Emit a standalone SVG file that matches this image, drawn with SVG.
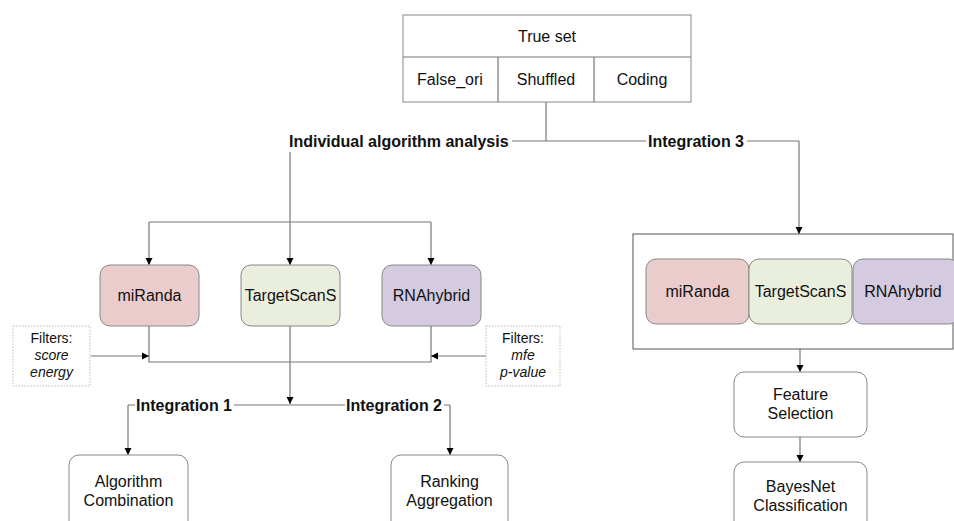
<svg xmlns="http://www.w3.org/2000/svg" width="954" height="521" viewBox="0 0 954 521">
<defs>
<marker id="arr" markerWidth="8" markerHeight="8" refX="7" refY="4" orient="auto" markerUnits="userSpaceOnUse">
<path d="M0,0.5 L7,4 L0,7.5 z" fill="#000"/>
</marker>
<style>
text{font-family:"Liberation Sans",Arial,sans-serif;fill:#111;}
.t{font-size:16px;text-anchor:middle;}
.f{font-size:14px;text-anchor:middle;}
.b{font-size:16px;font-weight:bold;}
.box{fill:#fff;stroke:#888;stroke-width:1;}
.flt{fill:#fff;stroke:#bbb;stroke-width:1;stroke-dasharray:1.5,1.5;}
.ln{fill:none;stroke:#777;stroke-width:1.2;}
.ar{fill:none;stroke:#777;stroke-width:1.2;marker-end:url(#arr);}
.mi{fill:#ebcccc;stroke:#888;}
.ts{fill:#eaeedd;stroke:#888;}
.rh{fill:#d4cbe0;stroke:#888;}
</style>
</defs>
<rect width="954" height="521" fill="#fff"/>

<g id="connectors">
<path class="ln" d="M546,102 V141 M512,141 H646 M747,141 H799"/>
<path class="ar" d="M799,141 V234"/>
<path class="ln" d="M290,152 V222 M149,222 H431"/>
<path class="ar" d="M149,222 V265"/>
<path class="ar" d="M290,222 V265"/>
<path class="ar" d="M431,222 V265"/>
<path class="ln" d="M149,326 V362 H431 V326"/>
<path class="ar" d="M91,356 H149"/>
<path class="ar" d="M486,356 H431"/>
<path class="ar" d="M290,326 V404"/>
<path class="ln" d="M135,405 H128 M234,405 H345 M444,405 H450"/>
<path class="ar" d="M128,405 V455"/>
<path class="ar" d="M450,405 V455"/>
<path class="ar" d="M800,349 V372"/>
<path class="ar" d="M800,437 V462"/>
</g>

<g id="trueset">
<rect class="box" x="403" y="15" width="288" height="87"/>
<path class="ln" stroke="#888" d="M403,57 H691 M498,57 V102 M594,57 V102"/>
<text class="t" x="547" y="42">True set</text>
<text class="t" x="450" y="85">False_ori</text>
<text class="t" x="546" y="85">Shuffled</text>
<text class="t" x="642" y="85">Coding</text>
</g>

<g id="label-individual"><text class="b" x="289" y="147">Individual algorithm analysis</text></g>
<g id="label-int3"><text class="b" x="648" y="147">Integration 3</text></g>
<g id="label-int1"><text class="b" x="136" y="411">Integration 1</text></g>
<g id="label-int2"><text class="b" x="346" y="411">Integration 2</text></g>

<g id="miranda">
<rect class="mi" x="100" y="265" width="99" height="61" rx="10"/>
<text class="t" x="149.5" y="301">miRanda</text>
</g>
<g id="targetscans">
<rect class="ts" x="241" y="265" width="99" height="61" rx="10"/>
<text class="t" x="290.5" y="301">TargetScanS</text>
</g>
<g id="rnahybrid">
<rect class="rh" x="382" y="265" width="99" height="61" rx="10"/>
<text class="t" x="431.5" y="301">RNAhybrid</text>
</g>

<g id="filters-left">
<rect class="flt" x="13" y="326" width="77" height="60"/>
<text class="f" x="51.5" y="343">Filters:</text>
<text class="f" x="51.5" y="360" font-style="italic">score</text>
<text class="f" x="51.5" y="377" font-style="italic">energy</text>
</g>
<g id="filters-right">
<rect class="flt" x="486" y="326" width="74" height="60"/>
<text class="f" x="523" y="343">Filters:</text>
<text class="f" x="523" y="360" font-style="italic">mfe</text>
<text class="f" x="523" y="377" font-style="italic">p-value</text>
</g>

<g id="algcomb">
<rect class="box" x="69" y="455" width="119" height="80" rx="10"/>
<text class="t" x="128.5" y="487">Algorithm</text>
<text class="t" x="128.5" y="506">Combination</text>
</g>
<g id="rankagg">
<rect class="box" x="391" y="455" width="117" height="80" rx="10"/>
<text class="t" x="449.5" y="487">Ranking</text>
<text class="t" x="449.5" y="506">Aggregation</text>
</g>

<g id="container">
<rect fill="#fff" stroke="#555" stroke-width="1" x="633" y="234" width="320" height="115"/>
<rect class="mi" x="646" y="259" width="103" height="65" rx="10"/>
<text class="t" x="697.5" y="297">miRanda</text>
<rect class="ts" x="749" y="259" width="103" height="65" rx="10"/>
<text class="t" x="800.5" y="297">TargetScanS</text>
<rect class="rh" x="853" y="259" width="106" height="65" rx="10"/>
<text class="t" x="903" y="297">RNAhybrid</text>
</g>

<g id="featsel">
<rect class="box" x="734" y="372" width="133" height="65" rx="10"/>
<text class="t" x="800.5" y="400">Feature</text>
<text class="t" x="800.5" y="419">Selection</text>
</g>
<g id="bayes">
<rect class="box" x="734" y="462" width="133" height="75" rx="10"/>
<text class="t" x="800.5" y="492">BayesNet</text>
<text class="t" x="800.5" y="511">Classification</text>
</g>
</svg>
